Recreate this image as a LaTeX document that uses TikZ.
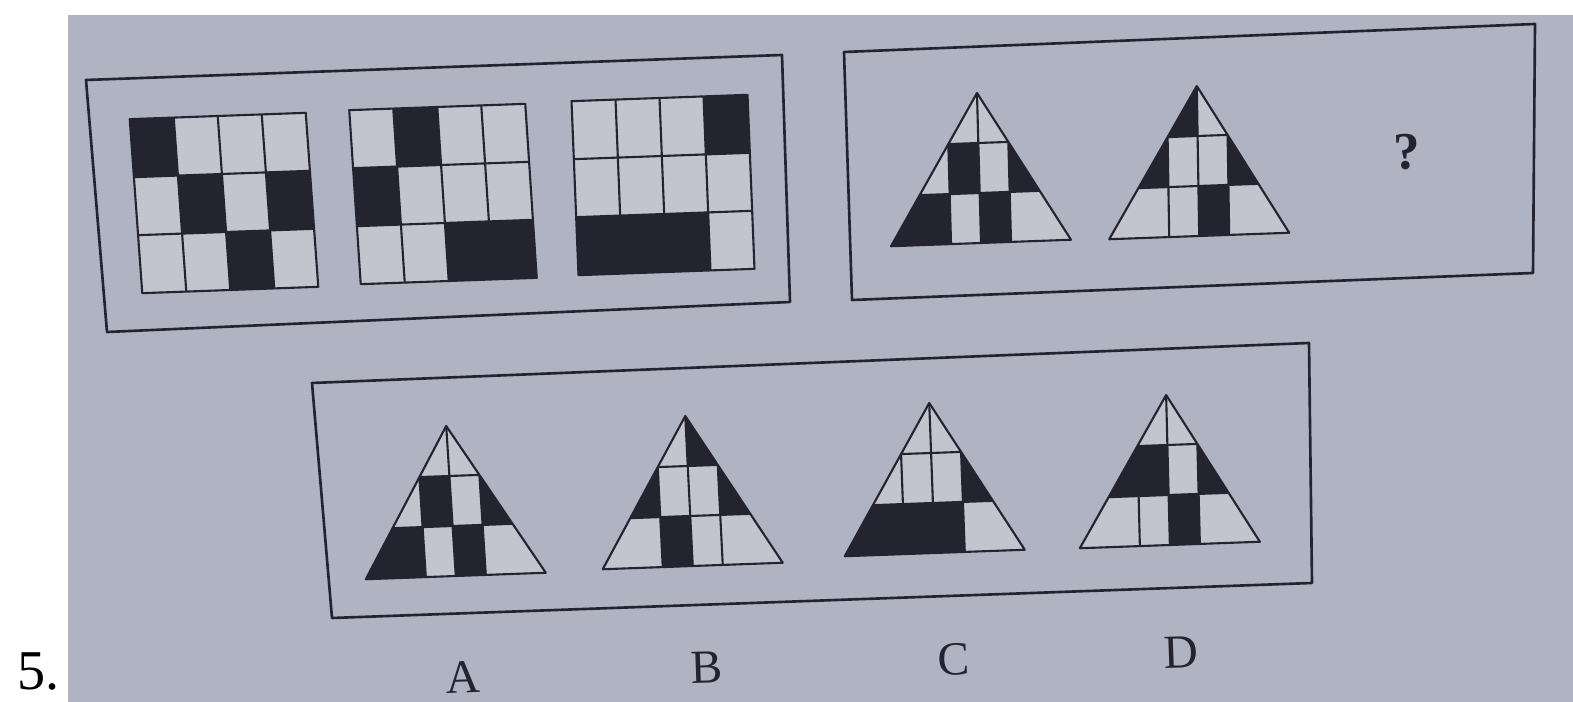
\documentclass[tikz,border=0pt]{standalone}
\usepackage{fontspec}
\setmainfont{Liberation Serif}
\definecolor{paper}{RGB}{176,179,193}
\definecolor{cellgray}{RGB}{194,196,206}
\definecolor{ink}{RGB}{36,36,48}
\tikzset{warp/.style={cm={1,0.036,-#1,1,(0,0)}},boxframe/.style={draw=ink,line width=1.5pt,line join=round},cellline/.style={draw=ink,line width=1.2pt,line join=round},optname/.style={font=\fontsize{27}{30}\selectfont,text=ink,rotate=2}}

\begin{document}
\begin{tikzpicture}[x=0.02cm,y=-0.02cm]
\useasboundingbox (0,0) rectangle (1573,702);
\fill[white] (0,0) rectangle (1573,702);
\fill[paper] (68,15) rectangle (1573,702);
% frames
\draw[boxframe] (86,80) -- (782,55) -- (790,302) -- (107,332) -- cycle;
\draw[boxframe] (844,52) -- (1535,24) -- (1533,273) -- (852,300) -- cycle;
\draw[boxframe] (312,383) -- (1309,343) -- (1312,583) -- (332,618) -- cycle;
% square grids
\foreach \px/\py/\t/\cells in {224/203/0.072/{1/1,2/2,4/2,3/3},443/194/0.066/{2/1,1/2,3/3,4/3},663/185/0.04/{4/1,1/3,2/3,3/3}}{
  \begin{scope}[shift={(\px,\py)},warp=\t]
    \fill[cellgray] (-88,-87) rectangle (88,87);
    \foreach \c/\r in \cells \fill[ink] ({44*\c-132},{58*\r-145}) rectangle ++(44,58);
    \foreach \x in {-44,0,44} \draw[cellline] (\x,-87) -- (\x,87);
    \foreach \y in {-29,29} \draw[cellline] (-88,\y) -- (88,\y);
    \draw[cellline] (-88,-87) rectangle (88,87);
  \end{scope}}
% triangles
\foreach \px/\py/\t/\cells in {979/168/0.027/{2/2,4/2,1/3,3/3},1198/161/0.016/{2/1,1/2,4/2,3/3},
  451/501/0.064/{2/2,4/2,1/3,3/3},689/491/0.05/{3/1,1/2,4/2,2/3},
  932/478/0.037/{4/2,1/3,2/3,3/3},1168/470/0.025/{1/2,2/2,4/2,3/3}}{
  \begin{scope}[shift={(\px,\py)},warp=\t]
    \begin{scope}
      \clip (0,-75) -- (90,75) -- (-90,75) -- cycle;
      \fill[cellgray] (-90,-75) rectangle (90,75);
      \foreach \c/\r in \cells {
        \pgfmathsetmacro\xa{\c==1 ? -100 : 30*\c-90}
        \pgfmathsetmacro\xb{\c==4 ? 100 : 30*\c-60}
        \fill[ink] (\xa,{50*\r-125}) rectangle (\xb,{50*\r-75});
      }
      \draw[cellline] (-100,-25) -- (100,-25);
      \draw[cellline] (-100,25) -- (100,25);
      \draw[cellline] (0,-80) -- (0,80);
      \draw[cellline] (-30,-25) -- (-30,80);
      \draw[cellline] (30,-25) -- (30,80);
    \end{scope}
    \draw[cellline] (0,-75) -- (90,75) -- (-90,75) -- cycle;
  \end{scope}}
% texts
\node[optname,font=\fontsize{30}{32}\selectfont\bfseries] (qmark) at (1407,152) {?};
\node[optname] (labA) at (463,677) {A};
\node[optname] (labB) at (707,667) {B};
\node[optname] (labC) at (954,659) {C};
\node[optname] (labD) at (1181,652) {D};
\node[anchor=base west,inner sep=0pt,font=\rmfamily\fontsize{32}{34}\selectfont] (num) at (17,689) {5.};
\end{tikzpicture}
\end{document}
